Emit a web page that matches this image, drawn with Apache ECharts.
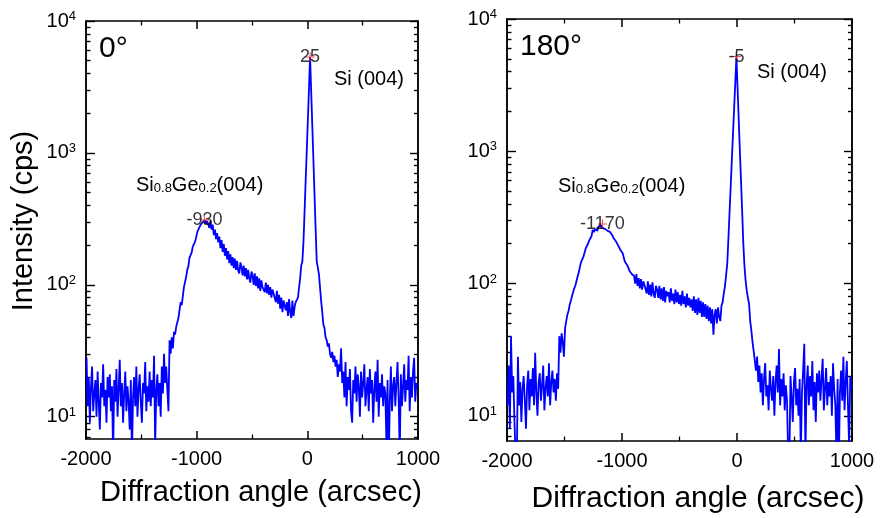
<!DOCTYPE html>
<html>
<head>
<meta charset="utf-8">
<script src="https://cdn.jsdelivr.net/npm/echarts@6/dist/echarts.min.js"></script>
<style>
  html, body { margin: 0; padding: 0; background: #fff; }
  #chart { width: 882px; height: 518px; }
</style>
</head>
<body>
<div id="chart"></div>
<script>
// 采样: x = xStart + i * xStep (arcsec)
const xStart = -1995
const xStep = 10

// 0° 强度 (cps)
const int0 = [
  28, 12, 20, 9, 17, 24, 11, 15, 19, 10,
  22, 13, 8, 18, 14, 25, 12, 16, 9, 20,
  14, 21, 11, 17, 5, 19, 13, 23, 10, 16,
  27, 12, 18, 9, 15, 22, 11, 17, 13, 8,
  19, 5, 14, 20, 12, 24, 10, 16, 21, 13,
  9, 18, 15, 26, 11, 17, 13, 22, 12, 19,
  14, 29, 6, 16, 21, 12, 18, 10, 24, 15,
  30, 18, 24, 16, 11, 38, 30, 40, 33, 44,
  42, 48, 47, 56, 64, 74, 70, 82, 96, 105,
  115, 130, 138, 160, 168, 176, 195, 200, 212, 228,
  250, 262, 270, 285, 278, 300, 296, 310, 290, 305,
  312, 270, 305, 262, 286, 238, 262, 222, 246, 210,
  232, 190, 218, 178, 204, 166, 190, 156, 180, 146,
  170, 140, 162, 134, 158, 130, 152, 128, 122, 148,
  136, 118, 140, 116, 134, 110, 130, 112, 104, 126,
  118, 100, 122, 98, 116, 94, 112, 90, 108, 96,
  98, 88, 104, 86, 100, 84, 96, 80, 92, 86,
  86, 74, 90, 72, 84, 66, 80, 62, 76, 70,
  64, 74, 58, 78, 62, 56, 76, 58, 68, 74,
  76, 80, 95, 112, 140, 150, 210, 360, 620, 1050,
  1800, 3100, 5330, 2900, 1600, 880, 480, 265, 150, 135,
  120, 95, 75, 62, 50, 47, 40, 38, 34, 36,
  30, 28, 31, 26, 29, 24, 27, 20, 25, 22,
  33, 18, 22, 14, 26, 12, 20, 16, 23, 11,
  9, 19, 15, 24, 13, 21, 17, 10, 22, 14,
  18, 25, 12, 16, 20, 11, 23, 15, 19, 9,
  16, 22, 13, 27, 10, 18, 14, 21, 12, 17,
  15, 6, 19, 4, 13, 24, 11, 17, 20, 12,
  18, 26, 14, 5, 21, 12, 17, 25, 13, 19,
  16, 29, 11, 20, 14, 22, 28, 13, 18, 17
]

// 180° 强度 (cps)
const int180 = [
  12, 24, 8, 40, 15, 20, 9, 5, 4, 28,
  12, 18, 9, 16, 20, 13, 8, 17, 22, 11,
  19, 14, 23, 12, 30, 15, 10, 18, 21, 13,
  17, 24, 11, 16, 20, 14, 25, 12, 18, 22,
  15, 19, 13, 21, 16, 40, 30, 42, 36, 28,
  46, 52, 58, 62, 69, 74, 80, 86, 92, 97,
  105, 114, 122, 135, 146, 150, 160, 172, 185, 190,
  200, 212, 220, 228, 254, 245, 258, 262, 250, 270,
  265, 275, 282, 262, 270, 258, 264, 250, 255, 246,
  240, 232, 222, 225, 210, 205, 195, 188, 180, 174,
  170, 158, 146, 150, 138, 132, 125, 128, 118, 115,
  114, 100, 118, 96, 110, 92, 108, 90, 104, 98,
  98, 84, 104, 82, 98, 80, 102, 84, 78, 96,
  90, 78, 96, 76, 92, 74, 94, 72, 88, 80,
  86, 72, 92, 74, 84, 70, 90, 72, 86, 70,
  82, 68, 88, 70, 80, 66, 84, 68, 78, 66,
  76, 62, 80, 60, 76, 58, 78, 60, 74, 56,
  72, 56, 70, 54, 68, 52, 66, 50, 64, 41,
  58, 64, 50, 66, 56, 52, 68, 72, 84, 95,
  115, 140, 215, 340, 540, 850, 1350, 2100, 3300, 5200,
  3000, 1750, 1000, 600, 350, 200, 135, 105, 88, 78,
  70, 52, 44, 36, 31, 26, 22, 28, 18, 24,
  15, 21, 12, 19, 25, 14, 17, 11, 22, 16,
  13, 20, 10, 18, 24, 15, 32, 12, 19, 14,
  21, 11, 17, 13, 5, 4, 20, 14, 9, 18,
  23, 12, 16, 10, 19, 5, 15, 22, 35, 5,
  17, 24, 12, 20, 14, 26, 11, 18, 9, 21,
  15, 22, 13, 19, 27, 11, 16, 23, 12, 18,
  14, 20, 10, 25, 16, 12, 5, 19, 4, 15,
  22, 13, 28, 11, 18, 26, 12, 6, 20, 16
]

// 峰位标注
const peakX0 = [25, -930]
const peakY0 = [5330, 310]
const peakX180 = [-5, -1170]
const peakY180 = [5200, 282]

// 刻度
const xMin = -2000
const xMax = 1000
const yMajor = [10, 100, 1000, 10000]
const yMinor = [7, 8, 9, 20, 30, 40, 50, 60, 70, 80, 90, 200, 300, 400, 500, 600, 700, 800, 900,
  2000, 3000, 4000, 5000, 6000, 7000, 8000, 9000]

const FONT = 'Liberation Sans, Arial, Helvetica, sans-serif'
const crossSymbol = 'path://M4.4,0H5.6V4.4H10V5.6H5.6V10H4.4V5.6H0V4.4H4.4Z'

const makeX = (gridIndex, position) => ({
  type: 'value',
  gridIndex,
  position,
  min: xMin,
  max: xMax,
  interval: 1000,
  axisLine: { show: true, onZero: false, lineStyle: { color: '#000', width: 1.5 } },
  axisTick: { show: true, inside: true, length: 8, lineStyle: { color: '#000', width: 1.5 } },
  minorTick: { show: true, splitNumber: 2, length: 4.5, lineStyle: { color: '#000', width: 1.3 } },
  axisLabel: {
    show: position === 'bottom',
    color: '#000',
    fontSize: 20,
    fontFamily: FONT,
    margin: 10,
    formatter: (v) => String(v)
  },
  splitLine: { show: false },
  minorSplitLine: { show: false }
})

const makeY = (gridIndex, position, ticks, len, withLabel, min) => ({
  type: 'log',
  gridIndex,
  position,
  min,
  max: 10000,
  axisLine: { show: true, onZero: false, lineStyle: { color: '#000', width: 1.5 } },
  axisTick: { show: true, inside: true, length: len, customValues: ticks, lineStyle: { color: '#000', width: 1.4 } },
  axisLabel: {
    show: withLabel,
    customValues: ticks,
    margin: 10,
    color: '#000',
    fontFamily: FONT,
    formatter: (v) => '{b|10}{s|' + Math.round(Math.log10(v)) + '}',
    rich: {
      b: { fontSize: 20, fontFamily: FONT, color: '#000' },
      s: { fontSize: 13, fontFamily: FONT, color: '#000', padding: [0, 0, 9, 0] }
    }
  },
  splitLine: { show: false },
  minorTick: { show: false }
})

const lineSeries = (axisIdx, values) => ({
  type: 'line',
  xAxisIndex: axisIdx.x,
  yAxisIndex: axisIdx.y,
  data: values.map((v, i) => [xStart + i * xStep, v]),
  showSymbol: false,
  symbol: 'none',
  clip: true,
  lineStyle: { color: '#0000ff', width: 1.8 },
  z: 3
})

const peakSeries = (axisIdx, xs, ys) => ({
  type: 'scatter',
  xAxisIndex: axisIdx.x,
  yAxisIndex: axisIdx.y,
  data: xs.map((x, i) => [x, ys[i]]),
  symbol: crossSymbol,
  symbolSize: 9,
  itemStyle: { color: '#ff2020' },
  label: {
    show: true,
    position: 'inside',
    formatter: (p) => String(p.value[0]),
    color: '#000',
    textBorderWidth: 0,
    fontSize: 18,
    fontFamily: FONT
  },
  z: 5
})

const textEl = (x, y, text, size, extra) => Object.assign({
  type: 'text',
  x,
  y,
  style: {
    text,
    fill: '#000',
    fontSize: size,
    fontFamily: FONT,
    textAlign: 'left',
    textVerticalAlign: 'middle'
  }
}, extra || {})

const sigeRich = {
  m: { fontSize: 20, fontFamily: FONT, fill: '#000' },
  sub: { fontSize: 13, fontFamily: FONT, fill: '#000', padding: [6, 0, 0, 0] }
}
const sigeText = '{m|Si}{sub|0.8}{m|Ge}{sub|0.2}{m|(004)}'

const option = {
  animation: false,
  backgroundColor: '#fff',
  grid: [
    { left: 86, top: 21, width: 332, height: 418, outerBoundsMode: 'none', containLabel: false },
    { left: 507, top: 19, width: 345, height: 422, outerBoundsMode: 'none', containLabel: false }
  ],
  xAxis: [
    makeX(0, 'bottom'),
    makeX(0, 'top'),
    makeX(1, 'bottom'),
    makeX(1, 'top')
  ],
  yAxis: [
    makeY(0, 'left', yMajor, 9, true, 6.78),
    makeY(0, 'left', yMinor, 4.5, false, 6.78),
    makeY(0, 'right', yMajor, 8, false, 6.78),
    makeY(0, 'right', yMinor, 4, false, 6.78),
    makeY(1, 'left', yMajor, 9, true, 6.45),
    makeY(1, 'left', yMinor, 4.5, false, 6.45),
    makeY(1, 'right', yMajor, 8, false, 6.45),
    makeY(1, 'right', yMinor, 4, false, 6.45)
  ],
  series: [
    lineSeries({ x: 0, y: 0 }, int0),
    peakSeries({ x: 0, y: 0 }, peakX0, peakY0),
    lineSeries({ x: 2, y: 4 }, int180),
    peakSeries({ x: 2, y: 4 }, peakX180, peakY180)
  ],
  graphic: [
    textEl(24, 221, 'Intensity (cps)', 29, {
      rotation: Math.PI / 2,
      style: { text: 'Intensity (cps)', fill: '#000', fontSize: 29, fontFamily: FONT, textAlign: 'center', textVerticalAlign: 'middle' }
    }),
    textEl(261, 493, 'Diffraction angle (arcsec)', 29, {
      style: { text: 'Diffraction angle (arcsec)', fill: '#000', fontSize: 29, fontFamily: FONT, textAlign: 'center', textVerticalAlign: 'middle' }
    }),
    textEl(698, 499, 'Diffraction angle (arcsec)', 30, {
      style: { text: 'Diffraction angle (arcsec)', fill: '#000', fontSize: 30, fontFamily: FONT, textAlign: 'center', textVerticalAlign: 'middle' }
    }),
    textEl(99, 49, '0°', 30),
    textEl(520, 47, '180°', 30),
    textEl(334, 79, 'Si (004)', 20),
    textEl(757, 72, 'Si (004)', 20),
    textEl(136, 185, sigeText, 20, {
      style: { text: sigeText, rich: sigeRich, fill: '#000', fontSize: 20, fontFamily: FONT, textAlign: 'left', textVerticalAlign: 'middle' }
    }),
    textEl(558, 186, sigeText, 20, {
      style: { text: sigeText, rich: sigeRich, fill: '#000', fontSize: 20, fontFamily: FONT, textAlign: 'left', textVerticalAlign: 'middle' }
    })
  ]
}

const chart = echarts.init(document.getElementById('chart'))
chart.setOption(option)
</script>
</body>
</html>
